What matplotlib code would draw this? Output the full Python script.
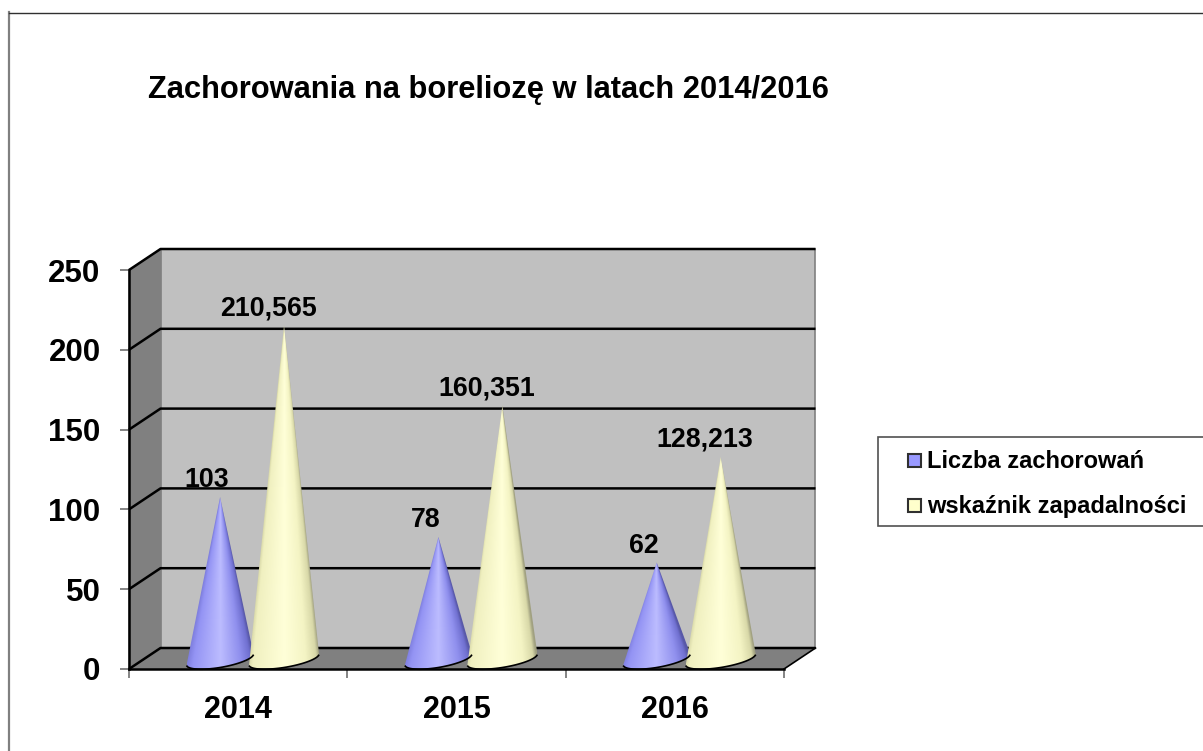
import numpy as np
import matplotlib
matplotlib.use("Agg")
import matplotlib.pyplot as plt
from matplotlib.colors import LinearSegmentedColormap
from matplotlib.patches import Polygon, Rectangle

plt.rcParams['font.family'] = ['Liberation Sans', 'DejaVu Sans']
plt.rcParams['font.weight'] = 'bold'

# data
years = ['2014', '2015', '2016']
cases = [103, 78, 62]
rate = [210.565, 160.351, 128.213]
cases_labels = ['103', '78', '62']
rate_labels = ['210,565', '160,351', '128,213']
y_ticks = [0, 50, 100, 150, 200, 250]
series_names = ['Liczba zachorowań', 'wskaźnik zapadalności']
title = 'Zachorowania na boreliozę w latach 2014/2016'

W, H = 1203, 751
fig = plt.figure(figsize=(W / 100, H / 100), dpi=100, facecolor='white')

# outer frame of the picture, only left and top show
fig.add_artist(plt.Line2D([9 / W, 9 / W], [0, 1 - 12 / H], color='#808080', lw=1.6))
fig.add_artist(plt.Line2D([9 / W, 1], [1 - 12.5 / H, 1 - 12.5 / H], color='#303030', lw=1))

# front plane of the 3d box, everything else hangs off it
ax = fig.add_axes([129 / W, (H - 669) / H, 655 / W, 399 / H])
ax.set_xlim(0, 3)
ax.set_ylim(0, 250)
ax.patch.set_visible(False)

# px to data units
px_x = 3 / 655
px_y = 250 / 399

# depth of the box
dx = 31.5 * px_x
dy = 21 * px_y
x_end = len(years)
y_end = y_ticks[-1]

ax.add_patch(Polygon([(dx, dy), (x_end + dx, dy), (x_end + dx, y_end + dy), (dx, y_end + dy)],
                     fc='#c0c0c0', ec='#808080', lw=1.2, clip_on=False, zorder=1))
ax.add_patch(Polygon([(0, 0), (dx, dy), (dx, y_end + dy), (0, y_end)],
                     fc='#808080', ec='#808080', lw=0.8, clip_on=False, zorder=1))
ax.add_patch(Polygon([(0, 0), (x_end, 0), (x_end + dx, dy), (dx, dy)],
                     fc='#808080', ec='none', clip_on=False, zorder=1))

for v in y_ticks:
    ax.plot([0, dx, x_end + dx], [v, v + dy, v + dy], color='black', lw=1.8,
            clip_on=False, zorder=2, solid_capstyle='butt')
ax.plot([x_end, x_end + dx], [0, dy], color='black', lw=1.2, clip_on=False, zorder=2)

blue_cmap = LinearSegmentedColormap.from_list(
    'blue', [(0, '#7c7cdc'), (0.1, '#9494f4'), (0.5, '#bcbcff'), (0.8, '#9090ee'),
             (0.95, '#7070d0'), (1, '#5858a8')])
yellow_cmap = LinearSegmentedColormap.from_list(
    'yellow', [(0, '#d8d8a8'), (0.06, '#f0f0c0'), (0.5, '#ffffd8'), (0.8, '#f4f4c4'),
               (0.95, '#d8d8a8'), (1, '#a0a080')])


def draw_cone(cx, value, half_w, cmap):
    # base sits a bit into the box, ellipse is tilted up to the right
    cy = 9.5 * px_y
    h = 8 * px_y
    tilt = 5.5 * px_y
    top = value + 7.5 * px_y
    t = np.linspace(0, np.pi, 60)
    ex = cx + half_w * np.cos(t)
    ey = cy - h * np.sin(t) + tilt * np.cos(t)
    outline = np.vstack([[cx, top], np.column_stack([ex, ey])])

    xs = np.linspace(cx - half_w, cx + half_w, 240)
    ys = np.linspace(0, top, 400)
    xx, yy = np.meshgrid(xs, ys)
    frac = np.clip((top - yy) / (top - cy), 0.004, None)
    u = np.clip((xx - cx) / (half_w * frac), -1, 1)
    im = ax.imshow((u + 1) / 2, extent=[xs[0], xs[-1], ys[0], ys[-1]], origin='lower',
                   cmap=cmap, vmin=0, vmax=1, aspect='auto', zorder=3,
                   interpolation='bilinear')
    clip = Polygon(outline, transform=ax.transData, fc='none', ec='none')
    ax.add_patch(clip)
    im.set_clip_path(clip)
    ax.plot(ex[3:-3], ey[3:-3], color='black', lw=1.2, zorder=3.1, clip_on=False)


group_shift = 0.5 + dx / 2
blue_off, yellow_off = -0.155, 0.138
for i in range(len(years)):
    draw_cone(i + group_shift + blue_off, cases[i], 33.5 * px_x, blue_cmap)
    draw_cone(i + group_shift + yellow_off, rate[i], 35 * px_x, yellow_cmap)
    for off, val, lab, shift in [(blue_off, cases[i], cases_labels[i], -9.4),
                                 (yellow_off, rate[i], rate_labels[i], -11.5)]:
        ax.annotate(lab, (i + group_shift + off, val + 7.5 * px_y),
                    xytext=(shift, 12.2), textcoords='offset points', ha='center', va='center',
                    fontsize=19.3, fontweight='bold', color='black', zorder=5,
                    annotation_clip=False)

ax.set_xlim(0, 3)
ax.set_ylim(0, 250)

# axes lines
for s in ['top', 'right']:
    ax.spines[s].set_visible(False)
for s in ['left', 'bottom']:
    ax.spines[s].set_linewidth(1.8)
    ax.spines[s].set_zorder(4)
ax.set_yticks(y_ticks)
ax.set_xticks(range(x_end + 1))
ax.set_xticklabels([])
ax.set_xticks(np.arange(x_end) + 0.5, labels=years, minor=True)
ax.tick_params(axis='both', which='major', direction='out', length=6.5, width=1.2, color='#707070')
ax.tick_params(axis='y', labelsize=22.5, pad=14)
ax.tick_params(axis='x', which='minor', length=0, labelsize=22, pad=19)

fig.text(148 / W, 1 - 90 / H, title, fontsize=22.25, fontweight='bold', va='center', ha='left')

# legend box runs off the right edge
fig.add_artist(Rectangle((878 / W, 1 - 526 / H), (W - 878 + 5) / W, 89 / H,
                         transform=fig.transFigure, fc='white', ec='#505050', lw=1.2))
fig.add_artist(Rectangle((907.5 / W, 1 - 467 / H), 13.5 / W, 13.5 / H, transform=fig.transFigure,
                         fc='#9999ff', ec='#303030', lw=1.5))
fig.add_artist(Rectangle((907.5 / W, 1 - 512 / H), 13.5 / W, 13.5 / H, transform=fig.transFigure,
                         fc='#ffffcc', ec='#303030', lw=1.5))
fig.text(927 / W, 1 - 462 / H, series_names[0], fontsize=17, fontweight='bold', va='center')
fig.text(927 / W, 1 - 507 / H, series_names[1], fontsize=17, fontweight='bold', va='center')

fig.savefig('out.png', dpi=100)
